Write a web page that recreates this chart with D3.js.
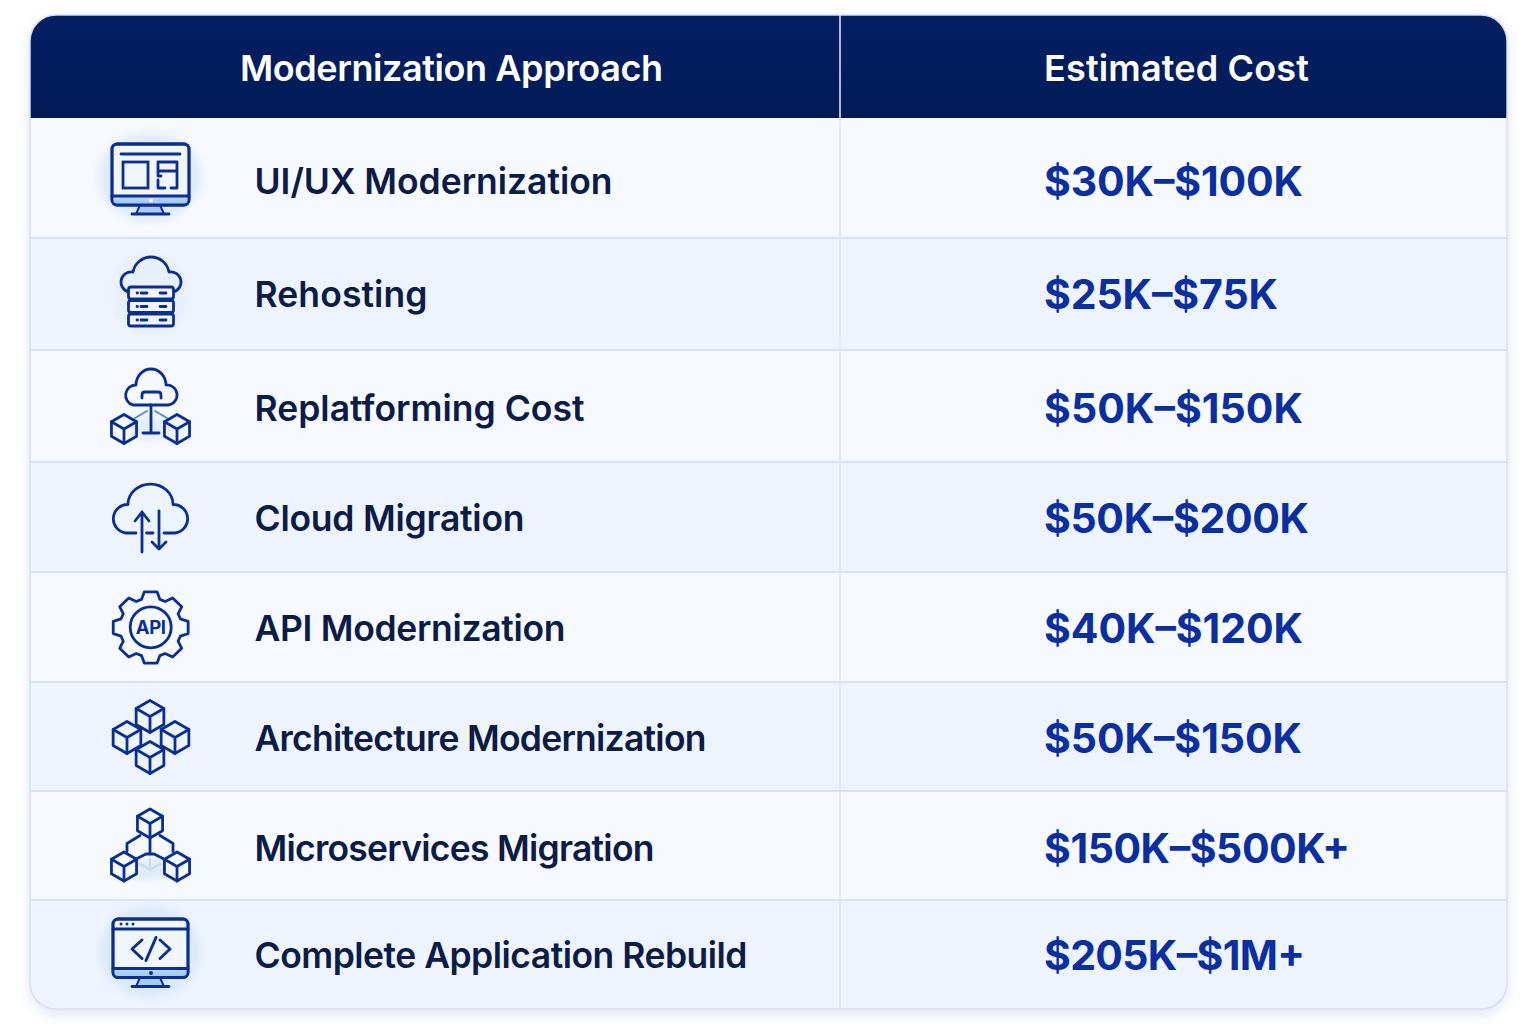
<!DOCTYPE html>
<html>

<head>
  <title>Modernization Cost Table</title>
  <script src="https://cdn.jsdelivr.net/npm/d3@7"></script>
  <style>
    html, body { margin: 0; background: #fff; }
    svg { display: block; }
    text { font-family: Inter, "Noto Sans", sans-serif; }
  </style>
</head>

<body>
  <main id="container"></main>

  <script type="text/javascript">
    const headers = ["Modernization Approach", "Estimated Cost"];
    const approaches = [
      "UI/UX Modernization",
      "Rehosting",
      "Replatforming Cost",
      "Cloud Migration",
      "API Modernization",
      "Architecture Modernization",
      "Microservices Migration",
      "Complete Application Rebuild",
    ];
    const costs = [
      "$30K–$100K",
      "$25K–$75K",
      "$50K–$150K",
      "$50K–$200K",
      "$40K–$120K",
      "$50K–$150K",
      "$150K–$500K+",
      "$205K–$1M+",
    ];
    const icons = ["monitor", "servers", "replatform", "transfer", "api", "blocks", "micro", "code"];

    // measured text runs in the picture, the lettering is a bit uneven
    const headerWidths = [423, 265];
    const nameWidths = [358, 173, 330, 270, 311, 452, 400, 493];
    const costWidths = [259, 234, 259, 265, 259, 258, 306, 261];
    const rowNudge = [3, 0, 2, 1, 1, 2, 2.5, 0.5];

    const navy = "#0a2f8f";
    const pale = "#a9cdf2";

    const width = 1536;
    const height = 1024;
    const card = { x: 30, y: 15, w: 1477, h: 994, r: 26 };
    const headerBottom = 118;
    const splitX = 840;
    const iconX = 150;
    const nameX = 254.5;
    const costX = 1044;

    // rows are not quite equal in the picture, first one is taller
    const rowY = d3.scaleLinear()
      .domain([0, 1, 3, 5, 8])
      .range([headerBottom, 238, 462, 682, card.y + card.h]);

    const svg = d3.select("#container")
      .append("svg")
      .attr("width", width)
      .attr("height", height);

    const defs = svg.append("defs");

    const headGrad = defs.append("linearGradient")
      .attr("id", "headGrad")
      .attr("x1", 0).attr("x2", 0).attr("y1", 0).attr("y2", 1);
    headGrad.append("stop").attr("offset", "0%").attr("stop-color", "#041f63");
    headGrad.append("stop").attr("offset", "100%").attr("stop-color", "#021a56");

    const bandGrad = defs.append("linearGradient")
      .attr("id", "bandGrad")
      .attr("x1", 0).attr("x2", 0).attr("y1", 0).attr("y2", 1);
    bandGrad.append("stop").attr("offset", "0%").attr("stop-color", "#bcd8f5");
    bandGrad.append("stop").attr("offset", "100%").attr("stop-color", "#9cc5ef");

    const shadow = defs.append("filter")
      .attr("id", "shadow")
      .attr("x", "-5%").attr("y", "-5%").attr("width", "110%").attr("height", "110%");
    shadow.append("feDropShadow")
      .attr("dx", 0).attr("dy", 5).attr("stdDeviation", 7)
      .attr("flood-color", "#9fb2d8").attr("flood-opacity", 0.35);

    defs.append("filter").attr("id", "soft")
      .attr("x", "-30%").attr("y", "-30%").attr("width", "160%").attr("height", "160%")
      .append("feGaussianBlur").attr("stdDeviation", 4);

    defs.append("clipPath").attr("id", "cardClip")
      .append("rect")
      .attr("x", card.x).attr("y", card.y)
      .attr("width", card.w).attr("height", card.h)
      .attr("rx", card.r);

    // card base with shadow
    svg.append("rect")
      .attr("x", card.x).attr("y", card.y)
      .attr("width", card.w).attr("height", card.h)
      .attr("rx", card.r)
      .attr("fill", "#f5f8ff")
      .attr("filter", "url(#shadow)");

    const body = svg.append("g").attr("clip-path", "url(#cardClip)");

    body.selectAll("rect.row")
      .data(approaches)
      .join("rect")
      .attr("class", "row")
      .attr("x", card.x)
      .attr("width", card.w)
      .attr("y", (d, i) => rowY(i))
      .attr("height", (d, i) => rowY(i + 1) - rowY(i))
      .attr("fill", (d, i) => i % 2 ? "#eef4fe" : "#f6f9ff");

    body.selectAll("line.rule")
      .data(approaches.slice(1))
      .join("line")
      .attr("class", "rule")
      .attr("x1", card.x).attr("x2", card.x + card.w)
      .attr("y1", (d, i) => rowY(i + 1))
      .attr("y2", (d, i) => rowY(i + 1))
      .attr("stroke", "#d8e2f3")
      .attr("stroke-width", 2);

    body.append("line")
      .attr("x1", splitX).attr("x2", splitX)
      .attr("y1", headerBottom).attr("y2", card.y + card.h)
      .attr("stroke", "#dbe4f4")
      .attr("stroke-width", 1.5);

    // header band
    body.append("rect")
      .attr("x", card.x).attr("y", card.y)
      .attr("width", card.w).attr("height", headerBottom - card.y)
      .attr("fill", "url(#headGrad)");

    body.append("line")
      .attr("x1", splitX).attr("x2", splitX)
      .attr("y1", card.y).attr("y2", headerBottom)
      .attr("stroke", "#e6ecf8")
      .attr("stroke-width", 1.5);

    svg.append("rect")
      .attr("x", card.x).attr("y", card.y)
      .attr("width", card.w).attr("height", card.h)
      .attr("rx", card.r)
      .attr("fill", "none")
      .attr("stroke", "#d5dff1")
      .attr("stroke-width", 1.5);

    svg.selectAll("text.head")
      .data(headers)
      .join("text")
      .attr("class", "head")
      .attr("x", (d, i) => i ? 1176.5 : 451.5)
      .attr("y", 68.5)
      .attr("dy", "0.36em")
      .attr("text-anchor", "middle")
      .attr("fill", "#fff")
      .attr("font-size", 36)
      .attr("font-weight", 600)
      .attr("textLength", (d, i) => headerWidths[i])
      .text(d => d);

    const rowMid = i => (rowY(i) + rowY(i + 1)) / 2;

    svg.selectAll("text.name")
      .data(approaches)
      .join("text")
      .attr("class", "name")
      .attr("x", nameX)
      .attr("y", (d, i) => rowMid(i) + rowNudge[i])
      .attr("dy", "0.36em")
      .attr("fill", "#0c1c46")
      .attr("font-size", 35.5)
      .attr("font-weight", 600)
      .attr("textLength", (d, i) => nameWidths[i])
      .text(d => d);

    svg.selectAll("text.cost")
      .data(costs)
      .join("text")
      .attr("class", "cost")
      .attr("x", costX)
      .attr("y", (d, i) => rowMid(i) + rowNudge[i])
      .attr("dy", "0.36em")
      .attr("fill", "#0b2f9f")
      .attr("font-size", 41)
      .attr("font-weight", 700)
      .attr("textLength", (d, i) => costWidths[i])
      .text(d => d);

    // ---- icons, drawn around the middle of their row ----

    const stroke = 2.8;

    function line(g, d, color, w) {
      return g.append("path")
        .attr("d", d)
        .attr("fill", "none")
        .attr("stroke", color || navy)
        .attr("stroke-width", w || stroke)
        .attr("stroke-linecap", "round")
        .attr("stroke-linejoin", "round");
    }

    function box(g, x, y, w, h, rx) {
      return g.append("rect")
        .attr("x", x).attr("y", y).attr("width", w).attr("height", h)
        .attr("rx", rx || 0)
        .attr("fill", "none")
        .attr("stroke", navy)
        .attr("stroke-width", stroke);
    }

    function halo(g, cy, rx, ry, color) {
      g.append("ellipse")
        .attr("cx", 0).attr("cy", cy).attr("rx", rx).attr("ry", ry)
        .attr("fill", color)
        .attr("filter", "url(#soft)");
    }

    function cube(g, cx, cy, r, fill) {
      const hx = r * 0.866;
      const hy = r / 2;
      const hex = [
        [cx, cy - r], [cx + hx, cy - hy], [cx + hx, cy + hy],
        [cx, cy + r], [cx - hx, cy + hy], [cx - hx, cy - hy],
      ];
      g.append("polygon")
        .attr("points", hex.map(p => p.join(",")).join(" "))
        .attr("fill", fill || "#f3f7ff")
        .attr("stroke", navy)
        .attr("stroke-width", stroke)
        .attr("stroke-linejoin", "round");
      line(g, `M${cx - hx},${cy - hy}L${cx},${cy}L${cx + hx},${cy - hy}M${cx},${cy}V${cy + r}`);
    }

    function monitorFrame(g, x0, x1, y0, y1, bandY, standY, dot) {
      g.append("path")
        .attr("d", `M${-10},${y1}L${10},${y1}L${14},${standY}L${-14},${standY}Z`)
        .attr("fill", pale)
        .attr("stroke", navy)
        .attr("stroke-width", 2);
      box(g, x0, y0, x1 - x0, y1 - y0, 5).attr("fill", "#f1f6fd");
      g.append("rect")
        .attr("x", x0).attr("y", bandY)
        .attr("width", x1 - x0).attr("height", y1 - bandY)
        .attr("rx", 4)
        .attr("fill", "url(#bandGrad)");
      box(g, x0, y0, x1 - x0, y1 - y0, 5);
      line(g, `M${x0},${bandY}H${x1}`);
      line(g, `M-18,${standY}H19`);
      g.append("circle").attr("cx", 1).attr("cy", (bandY + y1) / 2).attr("r", 2).attr("fill", dot);
    }

    const drawIcon = {
      monitor(g) {
        halo(g, -1, 52, 44, "#dfebfa");
        monitorFrame(g, -38, 39, -34, 27, 18, 36, "#eef5ff");
        line(g, "M-29,-24H30");
        box(g, -27, -16, 25, 26);
        line(g, "M8,-16H27V10H21M8,-16V-7H27M8,-7V-2M8,2V10H15M8,-2H11");
      },
      servers(g) {
        halo(g, 0, 40, 40, "#e8f0fc");
        line(g, "M-21,-2A10.2,10.2 0 0 1 -17,-22A18.3,18.3 0 0 1 19,-22A10.2,10.2 0 0 1 23,-2");
        [-7, 6.5, 20].forEach(y => {
          box(g, -21.5, y, 45, 12, 2.5).attr("fill", "#f1f6fe");
          line(g, `M-13,${y + 6}H-12.5M-9,${y + 6}H-3M10,${y + 6}H16`);
        });
      },
      replatform(g) {
        halo(g, 22, 22, 12, "#e3eefb");
        line(g, "M-17,-1A10.2,10.2 0 0 1 -14,-21A15,16 0 0 1 16,-21A10,10 0 0 1 18,-1Z");
        line(g, "M-8,-8V-11Q-8,-14 -5,-14H8Q11,-14 11,-11V-8");
        line(g, "M1,-1V27M-7,27H9");
        line(g, "M-15,12L-3,5M5,5L17,12", "#4f8bd8", 2);
        cube(g, -26, 23, 14.5, "none");
        cube(g, 27, 23, 14.5, "none");
      },
      transfer(g) {
        line(g, "M-14,16H-24A14.3,14.3 0 0 1 -22,-12.5A22,20 0 0 1 23,-12.5A14.3,14.3 0 0 1 25,16H14");
        line(g, "M-3.5,16H3");
        line(g, "M-8,35V-5M-15,4L-8,-5L-1,4");
        line(g, "M9,-6V32M2,25L9,32L16,25");
      },
      api(g) {
        const teeth = 8;
        const pts = d3.range(teeth).flatMap(k => {
          const a = (k / teeth) * 2 * Math.PI - Math.PI / 2;
          return [[-0.3, 31], [-0.17, 38], [0.17, 38], [0.3, 31]]
            .map(([o, r]) => [r * Math.cos(a + o), r * Math.sin(a + o) * 0.95]);
        });
        g.append("polygon")
          .attr("points", pts.map(p => p.join(",")).join(" "))
          .attr("transform", "translate(0.7,0.5)")
          .attr("fill", "none")
          .attr("stroke", navy)
          .attr("stroke-width", stroke)
          .attr("stroke-linejoin", "round");
        g.append("circle")
          .attr("cx", 0.7).attr("cy", 0.3).attr("r", 20.5)
          .attr("fill", "none").attr("stroke", navy).attr("stroke-width", stroke);
        g.append("text")
          .attr("x", 0.7).attr("y", 0.3).attr("dy", "0.36em")
          .attr("text-anchor", "middle")
          .attr("fill", navy)
          .attr("font-size", 18.5)
          .attr("font-weight", 700)
          .attr("letter-spacing", -0.3)
          .text("API");
      },
      blocks(g) {
        cube(g, 0, -20, 16, "#eef4fe");
        cube(g, -23, 1, 16, "#eef4fe");
        cube(g, 25, 1, 16, "#eef4fe");
        cube(g, 0, 21, 16, "#eef4fe");
      },
      micro(g) {
        halo(g, 24, 24, 10, "#dfeafb");
        line(g, "M-11,18L0,24L11,18M0,13V24", "#c6d9f3", 2);
        line(g, "M-10,-10L-23,-2V6M10,-10L23,-2V6M0,-7V8");
        line(g, "M-13,13L-5,9M5,9L13,13");
        cube(g, 0, -22, 14.5, "#f6f9ff");
        cube(g, -26, 21, 14.5, "#f6f9ff");
        cube(g, 27, 21, 14.5, "#f6f9ff");
        line(g, "M-4,8.5H4", navy, 3);
      },
      code(g) {
        halo(g, -3, 51, 46, "#dce9f9");
        monitorFrame(g, -37, 38, -35.5, 23, 14, 32, navy);
        line(g, "M-37,-25.5H38");
        [-29, -23, -17].forEach(x => {
          g.append("circle").attr("cx", x).attr("cy", -30.5).attr("r", 1.5).attr("fill", navy);
        });
        line(g, "M-8,-14.5L-18,-5.5L-8,4M6,-17L-4,6M10,-14.5L20,-5.5L10,4", navy, 3);
      },
    };

    svg.selectAll("g.icon")
      .data(icons)
      .join("g")
      .attr("class", "icon")
      .attr("transform", (d, i) => `translate(${iconX},${rowMid(i)})`)
      .each(function(d) { drawIcon[d](d3.select(this)); });

  </script>
</body>

</html>
